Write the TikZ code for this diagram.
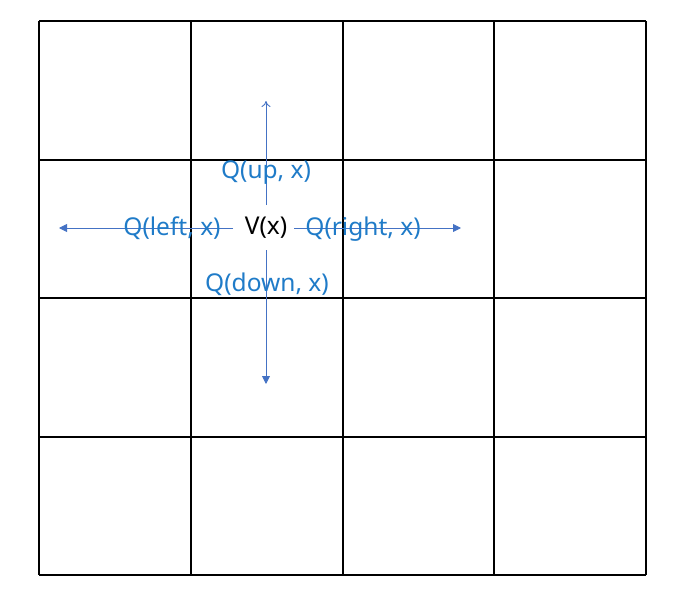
\documentclass[tikz,border=0pt]{standalone}
\usepackage{fontspec}
\setmainfont{Noto Sans}
\usetikzlibrary{arrows.meta}
\definecolor{arrowblue}{HTML}{4472C4}
\definecolor{textblue}{HTML}{1F7BC8}
\begin{document}
\begin{tikzpicture}[x=1pt,y=-1pt,
  gridline/.style={line width=1.1pt,black},
  qarrow/.style={arrowblue,line width=0.9pt},
  qlabel/.style={text=textblue,font=\fontsize{24.5}{28}\selectfont,inner sep=0pt},
  vlabel/.style={text=black,font=\fontsize{24.5}{28}\selectfont,inner sep=0pt}]
\useasboundingbox (0,0) rectangle (678,605);
\foreach \x in {39,191,343,494,646} \draw[gridline] (\x,21) -- (\x,575);
\foreach \y in {21,160,298,437,575} \draw[gridline] (39,\y) -- (646,\y);
\coordinate (upstart) at (266,205);
\coordinate (upend) at (266,101);
\coordinate (leftstart) at (233,228);
\coordinate (leftend) at (59,228);
\coordinate (rightstart) at (294,228);
\coordinate (rightend) at (461,228);
\coordinate (downstart) at (266,250);
\coordinate (downend) at (266,384);
\draw[qarrow,-{To[length=6pt,width=9pt]}] (upstart) -- (upend);
\draw[qarrow,-{Triangle[length=8pt,width=8pt]}] (leftstart) -- (leftend);
\draw[qarrow,-{Triangle[length=8pt,width=8pt]}] (rightstart) -- (rightend);
\draw[qarrow,-{Triangle[length=8pt,width=8pt]}] (downstart) -- (downend);
\node[vlabel] (v) at (266,228) {V(x)};
\node[qlabel] (qup) at (266,173) {Q(up, x)};
\node[qlabel] (qleft) at (172,228) {Q(left, x)};
\node[qlabel] (qright) at (363,229) {Q(right, x)};
\node[qlabel] (qdown) at (267,284) {Q(down, x)};
\end{tikzpicture}
\end{document}
